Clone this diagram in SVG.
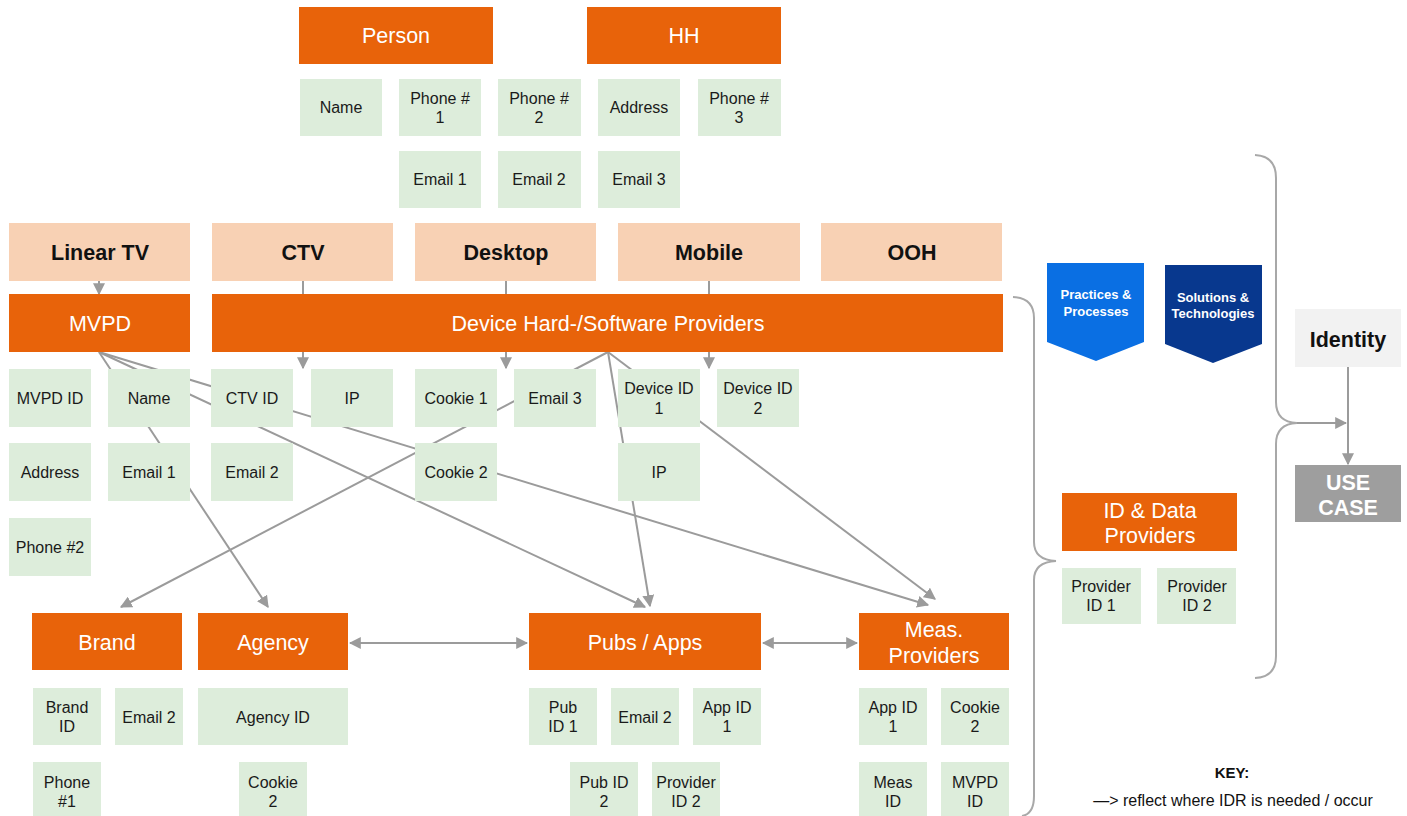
<svg xmlns="http://www.w3.org/2000/svg" width="1407" height="816" viewBox="0 0 1407 816">
  <style>
    .org { fill: #e8630a; }
    .grn { fill: #ddeddb; }
    .pch { fill: #f8d1b4; }
    .t-org { font-family: "Liberation Sans", Arial, sans-serif; font-size: 21.5px; fill: #ffffff; text-anchor: middle; }
    .t-grn { font-family: "Liberation Sans", Arial, sans-serif; font-size: 16px; fill: #1a1a1a; text-anchor: middle; }
    .t-ch { font-family: "Liberation Sans", Arial, sans-serif; font-size: 21.5px; font-weight: bold; fill: #111111; text-anchor: middle; }
    .t-chev { font-family: "Liberation Sans", Arial, sans-serif; font-size: 13px; font-weight: bold; fill: #ffffff; text-anchor: middle; }
    .t-key { font-family: "Liberation Sans", Arial, sans-serif; font-size: 16px; fill: #111111; text-anchor: middle; }
    .conn { stroke: #9b9b9b; stroke-width: 2; fill: none; }
    .brace { stroke: #a8a8a8; stroke-width: 2; fill: none; }
  </style>
  <defs>
    <marker id="arr" viewBox="0 0 10 10" refX="9" refY="5" markerWidth="12" markerHeight="12" markerUnits="userSpaceOnUse" orient="auto-start-reverse">
      <path d="M0,0 L10,5 L0,10 Z" fill="#9b9b9b"/>
    </marker>
  </defs>

  <rect width="1407" height="816" fill="#ffffff"/>

  <!-- connectors (drawn under the boxes) -->
  <g id="connectors">
    <!-- channels into providers -->
    <line class="conn" x1="99" y1="281" x2="99" y2="294" marker-end="url(#arr)"/>
    <line class="conn" x1="303" y1="281" x2="303" y2="294"/>
    <line class="conn" x1="506" y1="281" x2="506" y2="294"/>
    <line class="conn" x1="709" y1="281" x2="709" y2="294"/>
    <line class="conn" x1="303" y1="352" x2="303" y2="368" marker-end="url(#arr)"/>
    <line class="conn" x1="506" y1="352" x2="506" y2="368" marker-end="url(#arr)"/>
    <line class="conn" x1="709" y1="352" x2="709" y2="368" marker-end="url(#arr)"/>
    <!-- MVPD fan-out -->
    <line class="conn" x1="99" y1="352" x2="268" y2="607" marker-end="url(#arr)"/>
    <line class="conn" x1="99" y1="352" x2="645" y2="607" marker-end="url(#arr)"/>
    <line class="conn" x1="99" y1="352" x2="928" y2="605" marker-end="url(#arr)"/>
    <!-- Device providers fan-out -->
    <line class="conn" x1="608" y1="352" x2="121" y2="607" marker-end="url(#arr)"/>
    <line class="conn" x1="608" y1="352" x2="650" y2="606" marker-end="url(#arr)"/>
    <line class="conn" x1="608" y1="352" x2="935" y2="599" marker-end="url(#arr)"/>
    <!-- bottom peer links -->
    <line class="conn" x1="350" y1="643" x2="527" y2="643" marker-start="url(#arr)" marker-end="url(#arr)"/>
    <line class="conn" x1="763" y1="643" x2="857" y2="643" marker-start="url(#arr)" marker-end="url(#arr)"/>
    <!-- identity to use case -->
    <line class="conn" x1="1348" y1="367" x2="1348" y2="464" marker-end="url(#arr)"/>
    <line class="conn" x1="1296" y1="423" x2="1346" y2="423" marker-end="url(#arr)"/>
    <!-- braces -->
    <path class="brace" d="M1013,297 Q1034,298 1034,318 L1034,542 Q1034,560 1056,561 Q1034,562 1034,580 L1034,796 Q1034,814 1022,816"/>
    <path class="brace" d="M1255,155 Q1276,156 1276,178 L1276,402 Q1276,422 1297,423 Q1276,424 1276,444 L1276,656 Q1276,677 1255,678"/>
  </g>

  <!-- person / household -->
  <g id="person"><rect class="org" x="299" y="7" width="194" height="57"/><text class="t-org" x="396" y="43">Person</text></g>
  <g id="hh"><rect class="org" x="587" y="7" width="194" height="57"/><text class="t-org" x="684" y="43">HH</text></g>
  <g id="p-name"><rect class="grn" x="300" y="79" width="82" height="57"/><text class="t-grn" x="341" y="113">Name</text></g>
  <g id="p-phone1"><rect class="grn" x="399" y="79" width="82" height="57"/><text class="t-grn" x="440" y="104">Phone #</text><text class="t-grn" x="440" y="123">1</text></g>
  <g id="p-phone2"><rect class="grn" x="498" y="79" width="83" height="57"/><text class="t-grn" x="539" y="104">Phone #</text><text class="t-grn" x="539" y="123">2</text></g>
  <g id="h-address"><rect class="grn" x="598" y="79" width="82" height="57"/><text class="t-grn" x="639" y="113">Address</text></g>
  <g id="h-phone3"><rect class="grn" x="698" y="79" width="83" height="57"/><text class="t-grn" x="739" y="104">Phone #</text><text class="t-grn" x="739" y="123">3</text></g>
  <g id="p-email1"><rect class="grn" x="399" y="151" width="82" height="57"/><text class="t-grn" x="440" y="185">Email 1</text></g>
  <g id="p-email2"><rect class="grn" x="498" y="151" width="83" height="57"/><text class="t-grn" x="539" y="185">Email 2</text></g>
  <g id="h-email3"><rect class="grn" x="598" y="151" width="82" height="57"/><text class="t-grn" x="639" y="185">Email 3</text></g>

  <!-- channels -->
  <g id="ch-linear"><rect class="pch" x="9" y="223" width="181" height="58"/><text class="t-ch" x="100" y="260">Linear TV</text></g>
  <g id="ch-ctv"><rect class="pch" x="212" y="223" width="181" height="58"/><text class="t-ch" x="303" y="260">CTV</text></g>
  <g id="ch-desktop"><rect class="pch" x="415" y="223" width="181" height="58"/><text class="t-ch" x="506" y="260">Desktop</text></g>
  <g id="ch-mobile"><rect class="pch" x="618" y="223" width="182" height="58"/><text class="t-ch" x="709" y="260">Mobile</text></g>
  <g id="ch-ooh"><rect class="pch" x="821" y="223" width="181" height="58"/><text class="t-ch" x="912" y="260">OOH</text></g>

  <!-- providers -->
  <g id="mvpd"><rect class="org" x="9" y="294" width="181" height="58"/><text class="t-org" x="100" y="331">MVPD</text></g>
  <g id="device"><rect class="org" x="212" y="294" width="791" height="58"/><text class="t-org" x="608" y="331">Device Hard-/Software Providers</text></g>

  <g id="mvpd-id"><rect class="grn" x="9" y="369" width="82" height="58"/><text class="t-grn" x="50" y="404">MVPD ID</text></g>
  <g id="mvpd-name"><rect class="grn" x="108" y="369" width="82" height="58"/><text class="t-grn" x="149" y="404">Name</text></g>
  <g id="ctv-id"><rect class="grn" x="211" y="369" width="82" height="58"/><text class="t-grn" x="252" y="404">CTV ID</text></g>
  <g id="ctv-ip"><rect class="grn" x="311" y="369" width="82" height="58"/><text class="t-grn" x="352" y="404">IP</text></g>
  <g id="cookie1"><rect class="grn" x="415" y="369" width="82" height="58"/><text class="t-grn" x="456" y="404">Cookie 1</text></g>
  <g id="d-email3"><rect class="grn" x="514" y="369" width="82" height="58"/><text class="t-grn" x="555" y="404">Email 3</text></g>
  <g id="device-id1"><rect class="grn" x="618" y="369" width="82" height="58"/><text class="t-grn" x="659" y="394">Device ID</text><text class="t-grn" x="659" y="414">1</text></g>
  <g id="device-id2"><rect class="grn" x="717" y="369" width="82" height="58"/><text class="t-grn" x="758" y="394">Device ID</text><text class="t-grn" x="758" y="414">2</text></g>
  <g id="mvpd-address"><rect class="grn" x="9" y="443" width="82" height="58"/><text class="t-grn" x="50" y="478">Address</text></g>
  <g id="mvpd-email1"><rect class="grn" x="108" y="443" width="82" height="58"/><text class="t-grn" x="149" y="478">Email 1</text></g>
  <g id="ctv-email2"><rect class="grn" x="211" y="443" width="82" height="58"/><text class="t-grn" x="252" y="478">Email 2</text></g>
  <g id="cookie2"><rect class="grn" x="415" y="443" width="82" height="58"/><text class="t-grn" x="456" y="478">Cookie 2</text></g>
  <g id="mobile-ip"><rect class="grn" x="618" y="443" width="82" height="58"/><text class="t-grn" x="659" y="478">IP</text></g>
  <g id="mvpd-phone2"><rect class="grn" x="9" y="518" width="82" height="58"/><text class="t-grn" x="50" y="553">Phone #2</text></g>

  <!-- buy / sell side -->
  <g id="brand"><rect class="org" x="32" y="613" width="150" height="57"/><text class="t-org" x="107" y="650">Brand</text></g>
  <g id="agency"><rect class="org" x="198" y="613" width="150" height="57"/><text class="t-org" x="273" y="650">Agency</text></g>
  <g id="pubs"><rect class="org" x="529" y="613" width="232" height="57"/><text class="t-org" x="645" y="650">Pubs / Apps</text></g>
  <g id="meas"><rect class="org" x="859" y="613" width="150" height="57"/><text class="t-org" x="934" y="637">Meas.</text><text class="t-org" x="934" y="663">Providers</text></g>

  <g id="brand-id"><rect class="grn" x="33" y="688" width="68" height="57"/><text class="t-grn" x="67" y="713">Brand</text><text class="t-grn" x="67" y="732">ID</text></g>
  <g id="brand-email2"><rect class="grn" x="115" y="688" width="68" height="57"/><text class="t-grn" x="149" y="723">Email 2</text></g>
  <g id="agency-id"><rect class="grn" x="198" y="688" width="150" height="57"/><text class="t-grn" x="273" y="723">Agency ID</text></g>
  <g id="pub-id1"><rect class="grn" x="529" y="688" width="68" height="57"/><text class="t-grn" x="563" y="713">Pub</text><text class="t-grn" x="563" y="732">ID 1</text></g>
  <g id="pub-email2"><rect class="grn" x="611" y="688" width="68" height="57"/><text class="t-grn" x="645" y="723">Email 2</text></g>
  <g id="pub-app-id1"><rect class="grn" x="693" y="688" width="68" height="57"/><text class="t-grn" x="727" y="713">App ID</text><text class="t-grn" x="727" y="732">1</text></g>
  <g id="meas-app-id1"><rect class="grn" x="859" y="688" width="68" height="57"/><text class="t-grn" x="893" y="713">App ID</text><text class="t-grn" x="893" y="732">1</text></g>
  <g id="meas-cookie2"><rect class="grn" x="941" y="688" width="68" height="57"/><text class="t-grn" x="975" y="713">Cookie</text><text class="t-grn" x="975" y="732">2</text></g>
  <g id="brand-phone1"><rect class="grn" x="33" y="762" width="68" height="57"/><text class="t-grn" x="67" y="788">Phone</text><text class="t-grn" x="67" y="807">#1</text></g>
  <g id="agency-cookie2"><rect class="grn" x="239" y="762" width="68" height="57"/><text class="t-grn" x="273" y="788">Cookie</text><text class="t-grn" x="273" y="807">2</text></g>
  <g id="pub-id2"><rect class="grn" x="570" y="762" width="68" height="57"/><text class="t-grn" x="604" y="788">Pub ID</text><text class="t-grn" x="604" y="807">2</text></g>
  <g id="pub-provider-id2"><rect class="grn" x="652" y="762" width="68" height="57"/><text class="t-grn" x="686" y="788">Provider</text><text class="t-grn" x="686" y="807">ID 2</text></g>
  <g id="meas-id"><rect class="grn" x="859" y="762" width="68" height="57"/><text class="t-grn" x="893" y="788">Meas</text><text class="t-grn" x="893" y="807">ID</text></g>
  <g id="meas-mvpd-id"><rect class="grn" x="941" y="762" width="68" height="57"/><text class="t-grn" x="975" y="788">MVPD</text><text class="t-grn" x="975" y="807">ID</text></g>

  <!-- practices / solutions chevrons -->
  <g id="practices"><path d="M1047,263 L1144,263 L1144,342 L1096,361 L1047,342 Z" fill="#0a6fe3"/><text class="t-chev" x="1096" y="299">Practices &amp;</text><text class="t-chev" x="1096" y="316">Processes</text></g>
  <g id="solutions"><path d="M1165,265 L1262,265 L1262,344 L1213,363 L1165,344 Z" fill="#08388e"/><text class="t-chev" x="1213" y="302">Solutions &amp;</text><text class="t-chev" x="1213" y="318">Technologies</text></g>

  <!-- id & data providers -->
  <g id="id-data"><rect class="org" x="1062" y="493" width="175" height="58"/><text class="t-org" x="1150" y="518">ID &amp; Data</text><text class="t-org" x="1150" y="543">Providers</text></g>
  <g id="provider-id1"><rect class="grn" x="1062" y="568" width="79" height="56"/><text class="t-grn" x="1101" y="592">Provider</text><text class="t-grn" x="1101" y="611">ID 1</text></g>
  <g id="provider-id2"><rect class="grn" x="1157" y="568" width="79" height="56"/><text class="t-grn" x="1197" y="592">Provider</text><text class="t-grn" x="1197" y="611">ID 2</text></g>

  <!-- identity / use case -->
  <g id="identity"><rect x="1295" y="309" width="106" height="58" fill="#f2f2f2"/><text class="t-ch" x="1348" y="347">Identity</text></g>
  <g id="use-case"><rect x="1295" y="465" width="106" height="57" fill="#9e9e9e"/><text class="t-ch" x="1348" y="490" style="fill:#ffffff">USE</text><text class="t-ch" x="1348" y="515" style="fill:#ffffff">CASE</text></g>

  <!-- key -->
  <g id="key">
    <text class="t-key" x="1232" y="778" font-weight="bold" style="font-size:15px">KEY:</text>
    <text class="t-key" x="1233" y="806">—&gt; reflect where IDR is needed / occur</text>
  </g>
</svg>
